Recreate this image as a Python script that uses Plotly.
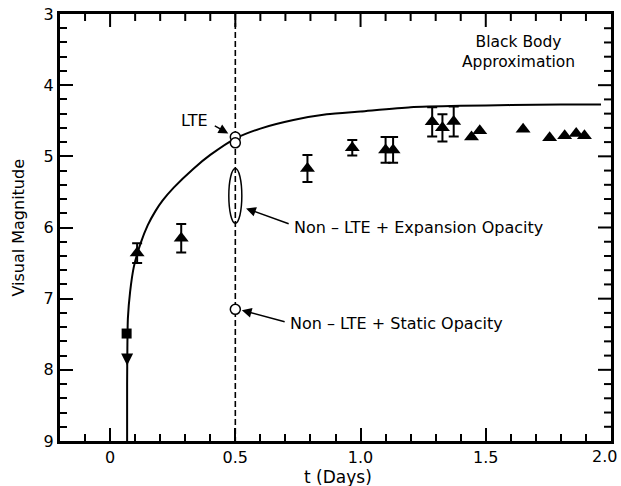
import plotly.graph_objects as go

FONT = "DejaVu Sans"

# LTE black-body light curve
curve_t = [0.068, 0.068, 0.069, 0.071, 0.080, 0.095, 0.122, 0.150, 0.181, 0.210,
           0.254, 0.334, 0.400, 0.500, 0.600, 0.732, 0.865, 1.000, 1.200, 1.400,
           1.600, 1.800, 1.960]
curve_mag = [9.00, 8.20, 7.70, 7.28, 6.90, 6.55, 6.22, 5.97, 5.77, 5.62,
             5.44, 5.17, 4.98, 4.75, 4.61, 4.49, 4.41, 4.37, 4.31, 4.29,
             4.28, 4.27, 4.27]

# observed magnitudes with error bars
obs_t = [0.108, 0.284, 0.788, 0.967, 1.100, 1.130, 1.286, 1.327, 1.372]
obs_mag = [6.36, 6.15, 5.17, 4.88, 4.91, 4.91, 4.515, 4.60, 4.51]
obs_err = [0.14, 0.20, 0.19, 0.11, 0.18, 0.18, 0.205, 0.19, 0.21]

# observed magnitudes without error bars
obs2_t = [1.443, 1.476, 1.649, 1.755, 1.815, 1.861, 1.894]
obs2_mag = [4.73, 4.64, 4.62, 4.74, 4.71, 4.68, 4.71]

# early detection and upper limit
early_t = [0.066]
early_mag = [7.49]
limit_t = [0.068]
limit_mag = [7.94]

# model results at t = 0.5 d
model_t = 0.5
lte_mag = [4.73, 4.81]
static_mag = [7.15]
expansion_range = [5.17, 5.94]
expansion_halfwidth = 0.026

x_range = [-0.2, 2.0]
y_range = [9, 3]
x_ticks = [0, 0.5, 1.0, 1.5, 2.0]
x_ticktext = ["0", "0.5", "1.0", "1.5", ""]   # last label drawn separately, kept inside the page
x_last_label = "2.0"
y_ticks = [3, 4, 5, 6, 7, 8, 9]
x_minor_step = 0.1
y_minor_step = 0.2

MAJOR_LEN = 13
MINOR_LEN = 7
PLOT_W = 551     # plot area width in px
PLOT_H = 427     # plot area height in px

fig = go.Figure()

fig.add_trace(go.Scatter(
    x=curve_t, y=curve_mag, mode="lines",
    line=dict(color="black", width=2, shape="spline", smoothing=0.6),
    hoverinfo="skip"))

fig.add_trace(go.Scatter(
    x=obs_t, y=obs_mag, mode="markers",
    marker=dict(symbol="triangle-up", size=13, color="black"),
    error_y=dict(type="data", array=obs_err, visible=True,
                 color="black", thickness=2, width=5)))

fig.add_trace(go.Scatter(
    x=obs2_t, y=obs2_mag, mode="markers",
    marker=dict(symbol="triangle-up", size=13, color="black")))

fig.add_trace(go.Scatter(
    x=early_t, y=early_mag, mode="markers",
    marker=dict(symbol="square", size=10, color="black")))

fig.add_trace(go.Scatter(
    x=limit_t, y=limit_mag, mode="markers",
    marker=dict(symbol="arrow-down", size=12, color="black")))

fig.add_trace(go.Scatter(
    x=[model_t] * len(lte_mag + static_mag), y=lte_mag + static_mag,
    mode="markers",
    marker=dict(symbol="circle", size=10, color="white",
                line=dict(color="black", width=1.5))))

# tick marks along the top and right edges, drawn as one line trace
x_per_px = (x_range[1] - x_range[0]) / PLOT_W
y_per_px = (y_range[0] - y_range[1]) / PLOT_H
edge_x, edge_y = [], []
n_x = int(round((x_range[1] - x_range[0]) / x_minor_step))
for i in range(1, n_x):
    xv = round(x_range[0] + i * x_minor_step, 3)
    length = MAJOR_LEN if any(abs(xv - t) < 1e-6 for t in x_ticks) else MINOR_LEN
    edge_x += [xv, xv, None]
    edge_y += [y_range[1], y_range[1] + length * y_per_px, None]
n_y = int(round((y_range[0] - y_range[1]) / y_minor_step))
for i in range(1, n_y):
    yv = round(y_range[1] + i * y_minor_step, 3)
    length = MAJOR_LEN if any(abs(yv - t) < 1e-6 for t in y_ticks) else MINOR_LEN
    edge_x += [x_range[1], x_range[1] - length * x_per_px, None]
    edge_y += [yv, yv, None]
fig.add_trace(go.Scatter(x=edge_x, y=edge_y, mode="lines",
                         line=dict(color="black", width=2),
                         hoverinfo="skip", cliponaxis=False))

# vertical dashed line at t = 0.5 d
fig.add_shape(type="line", xref="x", yref="y",
              x0=model_t, x1=model_t, y0=y_range[1], y1=y_range[0],
              line=dict(color="black", width=1.6, dash="6px,3px"),
              layer="below")

# ellipse enclosing the non-LTE expansion-opacity results
fig.add_shape(type="circle", xref="x", yref="y",
              x0=model_t - expansion_halfwidth, x1=model_t + expansion_halfwidth,
              y0=expansion_range[0], y1=expansion_range[1],
              line=dict(color="black", width=1.5))

text_font = dict(family=FONT, size=16, color="black")


def arrow(x_head, y_head, x_tail, y_tail):
    fig.add_annotation(x=x_head, y=y_head, ax=x_tail, ay=y_tail,
                       xref="x", yref="y", axref="x", ayref="y",
                       text="", showarrow=True, arrowhead=2, arrowsize=1.3,
                       arrowwidth=1.5, arrowcolor="black")


def label(x, y, text, xanchor="left"):
    fig.add_annotation(x=x, y=y, xref="x", yref="y", text=text,
                       showarrow=False, xanchor=xanchor, yanchor="middle",
                       font=text_font)


arrow(0.472, 4.678, 0.412, 4.561)
label(0.398, 4.49, "LTE", xanchor="right")

arrow(0.543, 5.733, 0.719, 5.954)
label(0.728, 6.006, "Non – LTE + Expansion Opacity")

arrow(0.526, 7.163, 0.703, 7.33)
label(0.710, 7.342, "Non – LTE + Static Opacity")

fig.add_annotation(x=1.63, y=3.53, xref="x", yref="y",
                   text="Black Body<br>Approximation", showarrow=False,
                   xanchor="center", yanchor="middle", align="center",
                   font=dict(family=FONT, size=15.5, color="black"))

# last x tick label, right-aligned so it stays on the page
fig.add_annotation(x=x_ticks[-1], y=0, xref="x", yref="paper",
                   text=x_last_label, showarrow=False,
                   xanchor="right", yanchor="middle", xshift=8, yshift=-15,
                   font=dict(family=FONT, size=16, color="black"))

# axis titles
fig.add_annotation(x=-0.076, y=0.5, xref="paper", yref="paper",
                   text="Visual Magnitude", textangle=-90, showarrow=False,
                   xanchor="center", yanchor="middle",
                   font=dict(family=FONT, size=16, color="black"))
fig.add_annotation(x=0.505, y=-0.085, xref="paper", yref="paper",
                   text="t (Days)", showarrow=False,
                   xanchor="center", yanchor="middle",
                   font=dict(family=FONT, size=17, color="black"))

tick_style = dict(ticks="inside", ticklen=MAJOR_LEN, tickwidth=2,
                  tickcolor="black", showgrid=False, zeroline=False,
                  automargin=False, showline=True, linecolor="black",
                  linewidth=3, mirror=True,
                  tickfont=dict(family=FONT, size=16, color="black"))

fig.update_layout(
    width=621, height=486,
    margin=dict(l=60, r=10, t=14, b=45),
    paper_bgcolor="white", plot_bgcolor="white",
    showlegend=False,
    font=dict(family=FONT, color="black"),
    xaxis=dict(range=x_range, tickvals=x_ticks, ticktext=x_ticktext,
               minor=dict(dtick=x_minor_step, ticks="inside",
                          ticklen=MINOR_LEN, tickwidth=2, tickcolor="black",
                          showgrid=False),
               **tick_style),
    yaxis=dict(range=y_range, tickvals=y_ticks,
               minor=dict(dtick=y_minor_step, ticks="inside",
                          ticklen=MINOR_LEN, tickwidth=2, tickcolor="black",
                          showgrid=False),
               **tick_style),
)

fig.write_html("out.html")
